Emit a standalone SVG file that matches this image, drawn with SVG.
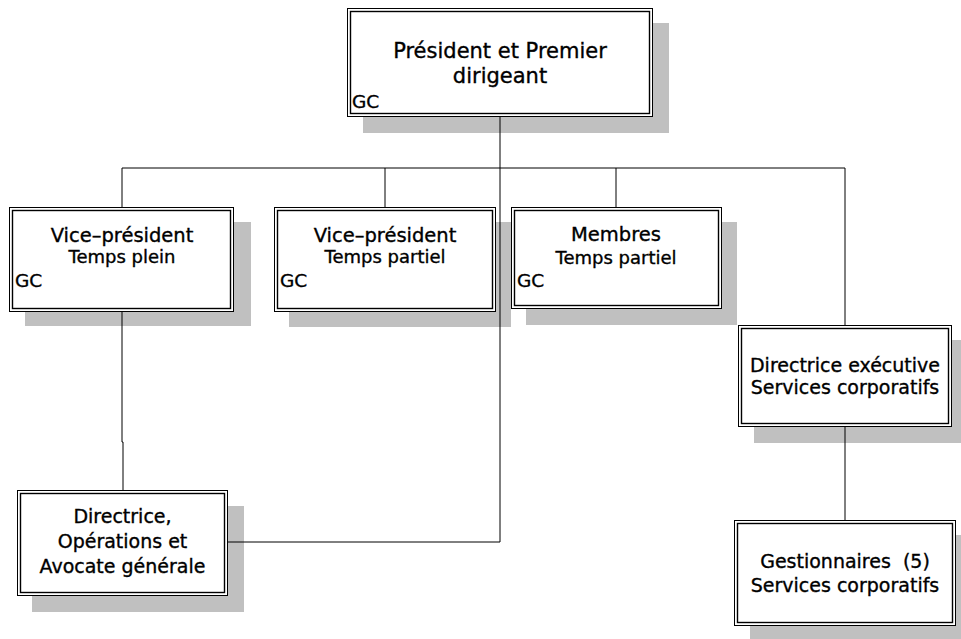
<svg xmlns="http://www.w3.org/2000/svg" width="961" height="639" viewBox="0 0 961 639">
<style>
.sh{fill:#c0c0c0}
.o{fill:#fff;stroke:#000;stroke-width:1}
.i{fill:none;stroke:#000;stroke-width:1.4}
text{font-family:"DejaVu Sans","Verdana",sans-serif;fill:#000;stroke:#000;stroke-width:0.35}
.t{font-size:19.5px;text-anchor:middle}
.s{font-size:18px;text-anchor:middle}
.g{font-size:18.5px}
.c line,.c polyline{stroke:#000;stroke-width:1;fill:none}
</style>
<rect width="961" height="639" fill="#fff"/>
<g id="president">
<rect class="sh" x="363" y="23" width="306" height="110"/>
<rect class="o" x="347.5" y="8.5" width="305" height="108"/>
<rect class="i" x="350.5" y="11.5" width="299" height="102"/>
<text class="t" x="500" y="58" style="font-size:21px">Président et Premier</text>
<text class="t" x="500" y="83" style="font-size:21px">dirigeant</text>
<text class="g" x="352" y="108">GC</text>
</g>
<g id="vp-plein">
<rect class="sh" x="25" y="222" width="226" height="104"/>
<rect class="o" x="9.5" y="207.5" width="224" height="104"/>
<rect class="i" x="12.5" y="210.5" width="218" height="98"/>
<text class="t" x="122" y="242">Vice–président</text>
<text class="s" x="122" y="263">Temps plein</text>
<text class="g" x="15" y="287">GC</text>
</g>
<g id="vp-partiel">
<rect class="sh" x="289" y="222" width="222" height="105"/>
<rect class="o" x="274.5" y="207.5" width="221" height="104"/>
<rect class="i" x="277.5" y="210.5" width="215" height="98"/>
<text class="t" x="385" y="242">Vice–président</text>
<text class="s" x="385" y="263">Temps partiel</text>
<text class="g" x="280" y="287">GC</text>
</g>
<g id="membres">
<rect class="sh" x="526" y="222" width="211" height="103"/>
<rect class="o" x="511.5" y="207.5" width="210" height="101"/>
<rect class="i" x="514.5" y="210.5" width="204" height="95"/>
<text class="t" x="616" y="241">Membres</text>
<text class="s" x="616" y="264">Temps partiel</text>
<text class="g" x="517" y="287">GC</text>
</g>
<g id="directrice-executive">
<rect class="sh" x="754" y="340" width="210" height="103"/>
<rect class="o" x="738.5" y="325.5" width="213" height="101"/>
<rect class="i" x="741.5" y="328.5" width="207" height="95"/>
<text class="t" x="845" y="372" style="font-size:19px">Directrice exécutive</text>
<text class="t" x="845" y="394" style="font-size:19px">Services corporatifs</text>
</g>
<g id="directrice-operations">
<rect class="sh" x="32" y="506" width="212" height="106"/>
<rect class="o" x="17.5" y="490.5" width="210" height="105"/>
<rect class="i" x="20.5" y="493.5" width="204" height="99"/>
<text class="t" x="122.5" y="523" style="font-size:19px">Directrice,</text>
<text class="t" x="122.5" y="548" style="font-size:19px">Opérations et</text>
<text class="t" x="122.5" y="573" style="font-size:19px">Avocate générale</text>
</g>
<g id="gestionnaires">
<rect class="sh" x="750" y="535" width="215" height="110"/>
<rect class="o" x="734.5" y="520.5" width="221" height="105"/>
<rect class="i" x="737.5" y="523.5" width="215" height="99"/>
<text class="t" x="845" y="568" style="font-size:19px" xml:space="preserve">Gestionnaires  (5)</text>
<text class="t" x="845" y="592" style="font-size:19px">Services corporatifs</text>
</g>
<g class="c" id="connectors">
<line x1="500" y1="117" x2="500" y2="542"/>
<polyline points="122,207 122,168 845,168 845,325"/>
<line x1="385" y1="168" x2="385" y2="207"/>
<line x1="616" y1="168" x2="616" y2="207"/>
<polyline points="122,312 122,442 123,442 123,490"/>
<line x1="228" y1="542" x2="500" y2="542"/>
<line x1="845" y1="427" x2="845" y2="520"/>
</g>
</svg>
